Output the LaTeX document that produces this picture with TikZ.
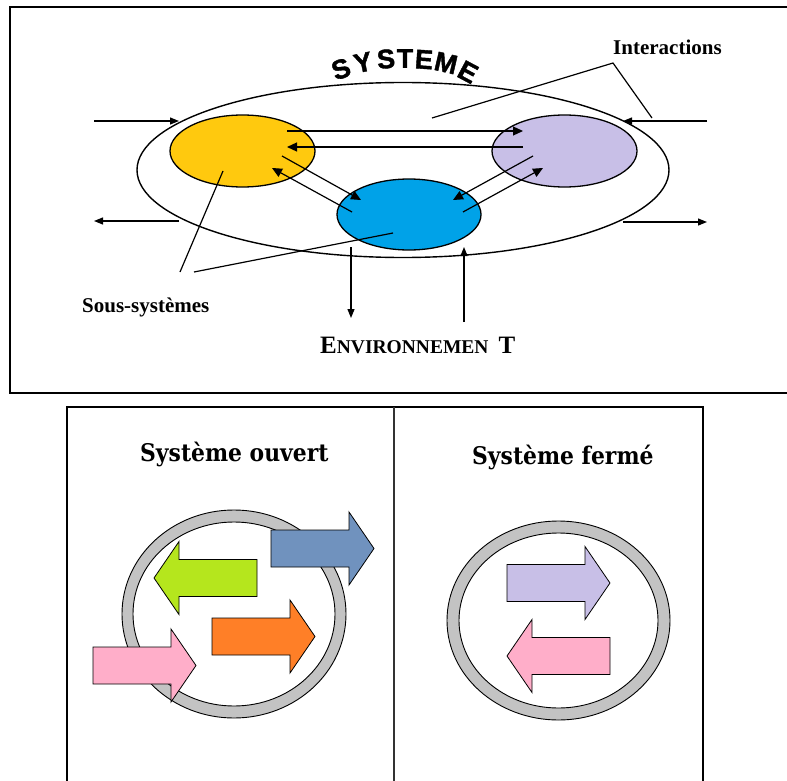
\documentclass[tikz,border=0pt]{standalone}
\usepackage{fontspec}
\usetikzlibrary{shapes.geometric,arrows.meta}
\newfontfamily\tnr{Liberation Serif}
\newfontfamily\arl{Liberation Sans}[BoldFeatures={FakeBold=1.5}]
\newfontfamily\ttlf{DejaVu Serif}[FakeStretch=0.9]
\definecolor{cyel}{HTML}{FFC90E}
\definecolor{cpur}{HTML}{C8BFE7}
\definecolor{cblu}{HTML}{00A2E8}
\definecolor{cgrn}{HTML}{B5E61D}
\definecolor{corg}{HTML}{FF7F27}
\definecolor{cpnk}{HTML}{FFAEC9}
\definecolor{csteel}{HTML}{7092BE}
\definecolor{cring}{HTML}{C3C3C3}
\tikzset{
  bigell/.style={ellipse, draw, line width=1.4pt, inner sep=0pt},
  subell/.style={ellipse, draw, line width=1.3pt, minimum width=145pt, minimum height=72pt, inner sep=0pt},
  link/.style={line width=1.2pt, -{Triangle[length=10pt,width=9pt]}},
  ext/.style={line width=1.2pt, -{Triangle[length=9pt,width=7pt]}},
  plainline/.style={line width=1.2pt},
  lbl/.style={font=\tnr\bfseries\fontsize{21}{21}\selectfont, inner sep=0pt, anchor=base west},
  letter/.style={font=\arl\bfseries\fontsize{27}{27}\selectfont, inner sep=0pt},
  titletext/.style={font=\ttlf\bfseries\fontsize{24.3}{24}\selectfont, inner sep=0pt, anchor=base west},
  frame/.style={line width=2pt},
  ringstyle/.style={line width=0.9pt, fill=cring, even odd rule},
  pics/barrow/.style={code={
    \draw[line width=0.8pt, fill=#1, line join=miter]
      (0,-18.5) -- (78,-18.5) -- (78,-36.5) -- (103,0) -- (78,36.5) -- (78,18.5) -- (0,18.5) -- cycle;}}
}
\begin{document}
\begin{tikzpicture}[x=1pt,y=-1pt]
\useasboundingbox (0,0) rectangle (787,781);
\begin{scope}
\clip (0,0) rectangle (787,781);
% frames
\draw[frame] (10,7) rectangle (795,393);
\draw[frame] (67,407) rectangle (703,795);
\draw[line width=1.2pt, black!80] (394,407) -- (394,790);

% top diagram
\node[bigell, minimum width=532pt, minimum height=175pt] (sys) at (403,170) {};
\node[subell, fill=cyel] (ssA) at (242.5,151) {};
\node[subell, fill=cpur] (ssB) at (564.5,151) {};
\node[subell, fill=cblu, minimum width=144pt, minimum height=71pt] (ssC) at (409,214.5) {};

\coordinate (a1) at (287,131); \coordinate (b1) at (523,131);
\coordinate (b2) at (523,147); \coordinate (a2) at (287,147);
\coordinate (a3) at (282,156); \coordinate (c3) at (361,200);
\coordinate (c4) at (352,212); \coordinate (a4) at (272,168);
\coordinate (b5) at (533,156); \coordinate (c5) at (453,200);
\coordinate (c6) at (463,212); \coordinate (b6) at (543,168);
\draw[link] (a1) -- (b1);
\draw[link] (b2) -- (a2);
\draw[link] (a3) -- (c3);
\draw[link] (c4) -- (a4);
\draw[link] (b5) -- (c5);
\draw[link] (c6) -- (b6);

% external exchanges
\coordinate (inL) at (94,121); \coordinate (sysL1) at (179,121);
\coordinate (sysL2) at (179,221); \coordinate (outL) at (94,221);
\coordinate (inR) at (707,121); \coordinate (sysR1) at (623,121);
\coordinate (sysR2) at (623,222); \coordinate (outR) at (707,222);
\coordinate (sysD) at (351,247); \coordinate (outD) at (351,318);
\coordinate (inU) at (464,322); \coordinate (sysU) at (464,247);
\draw[ext] (inL) -- (sysL1);
\draw[ext] (sysL2) -- (outL);
\draw[ext] (inR) -- (sysR1);
\draw[ext] (sysR2) -- (outR);
\draw[ext] (sysD) -- (outD);
\draw[ext] (inU) -- (sysU);

% label leaders
\coordinate (pA) at (223,171); \coordinate (pC) at (393,233);
\coordinate (sA) at (180,272); \coordinate (sC) at (194,272);
\draw[plainline] (pA) -- (sA);
\draw[plainline] (pC) -- (sC);
\coordinate (iL) at (432,118); \coordinate (iV) at (613,63); \coordinate (iR) at (652,118);
\draw[plainline] (iL) -- (iV) -- (iR);

% labels
\node[lbl] (interl) at (613,55) {Interactions};
\node[lbl] (sousl) at (82,312) {Sous-systèmes};
\node[inner sep=0pt, anchor=base west, font=\tnr\bfseries] (envl) at (320,353)
  {{\fontsize{25}{25}\selectfont E}{\fontsize{19.5}{20}\selectfont NVIRONNEMEN}\hspace{10pt}{\fontsize{25}{25}\selectfont T}};

% SYSTEME arched
\node[letter, rotate=20] (l1) at (341,69) {S};
\node[letter, rotate=12] (l2) at (363,62.5) {Y};
\node[letter, rotate=5] (l3) at (386,59) {S};
\node[letter, rotate=0] (l4) at (405,58.5) {T};
\node[letter, rotate=-4] (l5) at (424,59.5) {E};
\node[letter, rotate=-13] (l6) at (446,63) {M};
\node[letter, rotate=-28] (l7) at (468,72) {E};

% bottom panels
\node[titletext] (t1) at (140,461) {Système ouvert};
\node[titletext] (t2) at (472,464) {Système fermé};

\draw[ringstyle] (234,614) ellipse [x radius=112, y radius=104]
                 (234,614) ellipse [x radius=101, y radius=92];
\pic at (271,548.5) {barrow=csteel};
\pic[rotate=180] at (257,578) {barrow=cgrn};
\pic at (212,636.5) {barrow=corg};
\pic at (93,665.5) {barrow=cpnk};

\draw[ringstyle] (558.5,620.5) ellipse [x radius=111.5, y radius=99.5]
                 (558.5,620.5) ellipse [x radius=99.5, y radius=87.5];
\pic at (507,583) {barrow=cpur};
\pic[rotate=180] at (610,656) {barrow=cpnk};
\end{scope}
\end{tikzpicture}
\end{document}
